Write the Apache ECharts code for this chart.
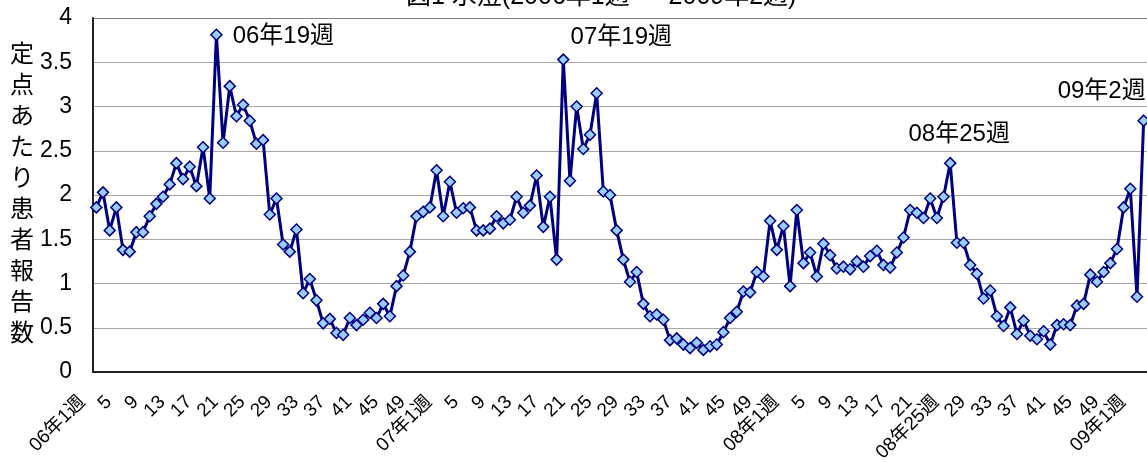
<!DOCTYPE html>
<html>
<head>
<meta charset="utf-8">
<script src="https://cdn.jsdelivr.net/npm/echarts@6/dist/echarts.min.js"></script>
<style>
  html, body { margin: 0; padding: 0; background: #fff; }
  #mainChart { width: 1147px; height: 462px; }
</style>
</head>
<body>
<div id="mainChart"></div>
<script>
// 水痘 定点あたり患者報告数 (2006年1週～2009年2週)
var v2006 = [1.86, 2.03, 1.60, 1.86, 1.38, 1.36, 1.58, 1.58, 1.76, 1.90, 1.98, 2.12, 2.36,
             2.18, 2.32, 2.10, 2.54, 1.96, 3.81, 2.59, 3.23, 2.89, 3.02, 2.84, 2.58, 2.62,
             1.78, 1.96, 1.44, 1.36, 1.61, 0.89, 1.05, 0.81, 0.55, 0.60, 0.44, 0.42, 0.61,
             0.53, 0.59, 0.67, 0.61, 0.77, 0.63, 0.97, 1.09, 1.36, 1.76, 1.81, 1.86, 2.28];
var v2007 = [1.76, 2.15, 1.80, 1.85, 1.86, 1.60, 1.60, 1.62, 1.76, 1.68, 1.72, 1.98, 1.80,
             1.88, 2.22, 1.64, 1.98, 1.27, 3.53, 2.16, 3.00, 2.52, 2.68, 3.15, 2.04, 2.00,
             1.60, 1.27, 1.02, 1.13, 0.77, 0.63, 0.65, 0.59, 0.36, 0.38, 0.31, 0.27, 0.33,
             0.25, 0.29, 0.31, 0.45, 0.61, 0.68, 0.91, 0.90, 1.13, 1.08, 1.71, 1.38, 1.65];
var v2008 = [0.97, 1.83, 1.23, 1.35, 1.08, 1.45, 1.32, 1.17, 1.19, 1.16, 1.25, 1.19, 1.31,
             1.37, 1.21, 1.18, 1.35, 1.52, 1.83, 1.80, 1.74, 1.96, 1.74, 1.98, 2.36, 1.46,
             1.46, 1.21, 1.11, 0.83, 0.92, 0.63, 0.52, 0.73, 0.43, 0.58, 0.41, 0.37, 0.46,
             0.31, 0.53, 0.54, 0.53, 0.75, 0.77, 1.10, 1.02, 1.13, 1.23, 1.39, 1.86, 2.07];
var v2009 = [0.85, 2.84];

var years = ['06', '07', '08', '09'];
var yearValues = [v2006, v2007, v2008, v2009];
// 軸ラベルで週番号の代わりに年週を表示する位置
var fullLabels = ['08年25週'];
// 注記をつける週
var notes = ['06年19週', '07年19週', '08年25週', '09年2週'];
var noteOffsets = {
    '06年19週': { position: 'right', distance: 10, offset: [0, 2] },
    '07年19週': { position: 'top', distance: 4, offset: [58, 0] },
    '08年25週': { position: 'top', distance: 11, offset: [9, 0] },
    '09年2週': { position: 'top', distance: 11, offset: [-42, 0] }
};

var categories = [];
var values = [];
years.forEach(function (yy, i) {
    yearValues[i].forEach(function (v, w) {
        categories.push(yy + '年' + (w + 1) + '週');
        values.push(v);
    });
});

var fontFamily = '"Liberation Sans", Arial, "Noto Sans CJK JP", sans-serif';

var seriesData = values.map(function (v, i) {
    var name = categories[i];
    if (notes.indexOf(name) < 0) {
        return v;
    }
    var o = noteOffsets[name];
    return {
        value: v,
        label: {
            show: true,
            formatter: name,
            position: o.position,
            distance: o.distance,
            offset: o.offset,
            color: '#000',
            fontSize: 24,
            fontFamily: fontFamily
        }
    };
});

var myChart = echarts.init(document.getElementById('mainChart'), null, { renderer: 'canvas' });

myChart.setOption({
    animation: false,
    title: {
        text: '図1 水痘(2006年1週 ～ 2009年2週)',
        left: 406,
        top: -15,
        padding: 0,
        textStyle: {
            fontSize: 25,
            fontWeight: 'normal',
            color: '#000',
            fontFamily: fontFamily
        }
    },
    grid: {
        left: 93,
        right: 0,
        top: 18,
        bottom: 90,
        containLabel: false,
        outerBoundsMode: 'none'
    },
    xAxis: {
        type: 'category',
        data: categories,
        boundaryGap: true,
        axisLine: { lineStyle: { color: '#222', width: 2 } },
        axisTick: {
            inside: true,
            length: 7,
            interval: 3,
            lineStyle: { color: '#222', width: 1 }
        },
        axisLabel: {
            interval: 3,
            rotate: 45,
            margin: 13,
            padding: [0, 20, 0, 0],
            fontSize: 19,
            color: '#000',
            fontFamily: fontFamily,
            formatter: function (value) {
                var w = value.split('年')[1].replace('週', '');
                if (w === '1' || fullLabels.indexOf(value) >= 0) {
                    return value;
                }
                return w;
            }
        },
        splitLine: { show: false }
    },
    yAxis: {
        type: 'value',
        min: 0,
        max: 4,
        interval: 0.5,
        name: '定点あたり患者報告数'.split('').join('\n'),
        nameLocation: 'middle',
        nameRotate: 0,
        nameGap: 59,
        nameTextStyle: {
            fontSize: 24,
            lineHeight: 31,
            padding: [12, 0, 0, 0],
            color: '#000',
            fontFamily: fontFamily
        },
        axisLine: { show: true, lineStyle: { color: '#222', width: 2 } },
        axisTick: { show: false },
        axisLabel: {
            margin: 21,
            fontSize: 23,
            color: '#000',
            fontFamily: fontFamily
        },
        splitLine: {
            lineStyle: {
                color: ['#a8a8a8', '#a8a8a8', '#a8a8a8', '#a8a8a8', '#a8a8a8',
                        '#a8a8a8', '#a8a8a8', '#a8a8a8', '#808080'],
                width: 1.2
            }
        }
    },
    series: [{
        name: '水痘',
        type: 'line',
        data: seriesData,
        symbol: 'diamond',
        symbolSize: 11,
        showAllSymbol: true,
        lineStyle: { color: '#000080', width: 3 },
        itemStyle: { color: '#99ccff', borderColor: '#000080', borderWidth: 1.5 },
        z: 3
    }]
});
</script>
</body>
</html>
